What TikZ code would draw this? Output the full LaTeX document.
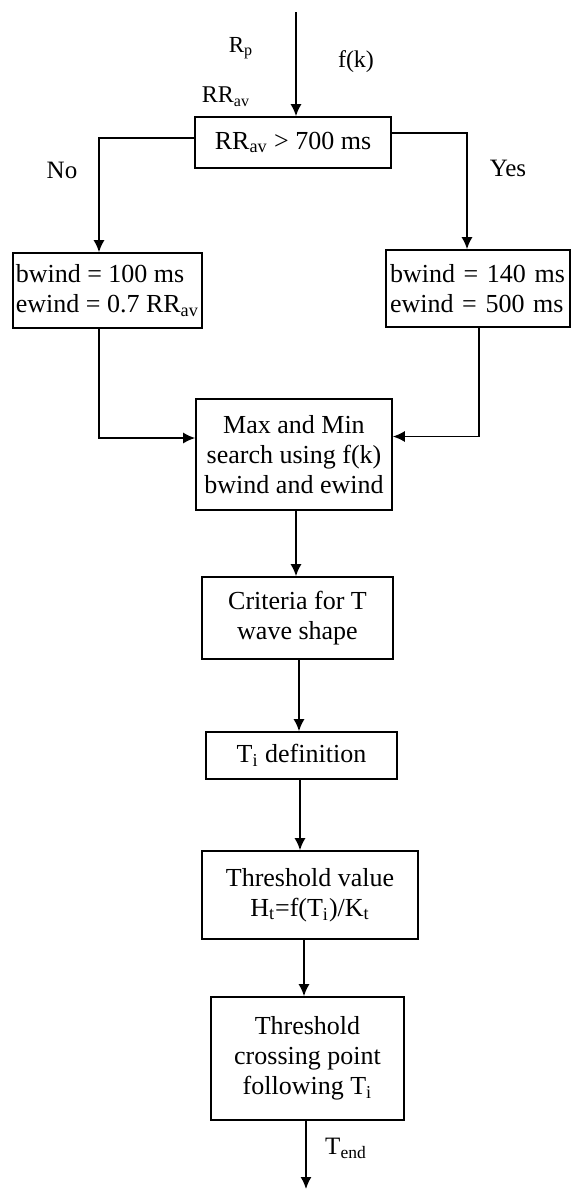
\documentclass[tikz,border=0pt]{standalone}
\usepackage{fontspec}
\setmainfont{Liberation Serif}
\usetikzlibrary{arrows.meta}

\tikzset{
  box/.style={draw, line width=0.8pt, inner xsep=2pt, inner ysep=1pt,
    font=\fontsize{13}{15}\selectfont},
  flow/.style={line width=0.8pt, -{Latex[length=6pt,width=5.5pt]}},
  lbl/.style={inner sep=0pt}
}

\begin{document}
\begin{tikzpicture}[x=0.5pt,y=-0.5pt]
\useasboundingbox (0,0) rectangle (571,1191);

%% boxes
\node[box, minimum width=98pt, minimum height=25.5pt] (dec) at (293,142.5)
  {RR\textsubscript{av} > 700 ms};
\node[box, anchor=west, inner xsep=1.5pt, minimum height=37.5pt, align=left] (short) at (12,290.5)
  {bwind = 100 ms\\ewind = 0.7 RR\textsubscript{av}};
\node[box, text width=88pt, minimum height=38.5pt, align=left] (long) at (478,288.5)
  {bwind = 140 ms\\ewind = 500 ms};
\node[box, minimum width=98pt, minimum height=55.5pt, align=center] (search) at (294,454.5)
  {Max and Min\\search using f(k)\\bwind and ewind};
\node[box, minimum width=95.5pt, minimum height=41pt, align=center] (crit) at (297.5,618)
  {Criteria for T\\wave shape};
\node[box, minimum width=95.5pt, minimum height=23.5pt] (tdef) at (301.5,755.5)
  {T\textsubscript{i} definition};
\node[box, minimum width=108pt, minimum height=44pt, align=center] (thr) at (310,895)
  {Threshold value\\H\textsubscript{t}=f(T\textsubscript{i})/K\textsubscript{t}};
\node[box, minimum width=96.5pt, minimum height=61.5pt, align=center] (cross) at (307.5,1058.5)
  {Threshold\\crossing point\\following T\textsubscript{i}};

%% labels
\node[lbl, font=\fontsize{11.5}{13}\selectfont] (rp) at (241,48) {R\textsubscript{p}};
\node[lbl, font=\fontsize{12}{13}\selectfont] (fk) at (356,62) {f(k)};
\node[lbl, font=\fontsize{12}{13}\selectfont] (rrav) at (226,97) {RR\textsubscript{av}};
\node[lbl, font=\fontsize{12.5}{14}\selectfont] (no) at (62,170) {No};
\node[lbl, font=\fontsize{12.5}{14}\selectfont] (yes) at (508,168) {Yes};
\node[lbl, font=\fontsize{12.5}{14}\selectfont] (tend) at (346,1148) {T\textsubscript{end}};

%% ends
\coordinate (in) at (296,12);
\coordinate (out) at (306,1189);

%% connectors
\draw[flow] (in) -- (in |- dec.north);
\draw[flow] ([yshift=2.25pt]dec.west) -| ([xshift=43.5pt]short.north west);
\draw[flow] ([yshift=4.75pt]dec.east) -| ([xshift=-5.5pt]long.north);
\draw[flow] ([xshift=43.5pt]short.south west) |- ([yshift=8.25pt]search.west);
\draw[flow] ([xshift=0.5pt]long.south) |- ([yshift=9pt]search.east);
\draw[flow] ([xshift=1pt]search.south) -- ([xshift=1pt]search.south |- crit.north);
\draw[flow] ([xshift=0.75pt]crit.south) -- ([xshift=0.75pt]crit.south |- tdef.north);
\draw[flow] ([xshift=-0.75pt]tdef.south) -- ([xshift=-0.75pt]tdef.south |- thr.north);
\draw[flow] ([xshift=-3pt]thr.south) -- ([xshift=-3pt]thr.south |- cross.north);
\draw[flow] (cross.south -| out) -- (out);
\end{tikzpicture}
\end{document}
